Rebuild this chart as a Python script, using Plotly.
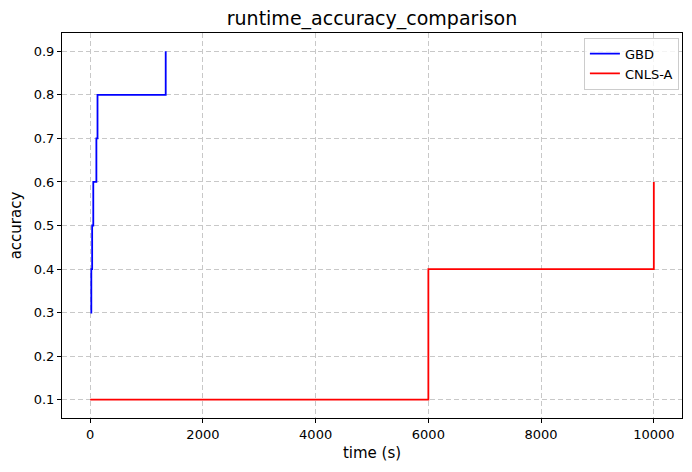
import plotly.graph_objects as go

# GBD run: time (s) at which each accuracy level was reached
gbd_time = [5, 20, 35, 55, 110, 130, 1340]
gbd_acc = [0.3, 0.4, 0.5, 0.6, 0.7, 0.8, 0.9]

# CNLS-A run
cnls_time = [0, 6000, 10000]
cnls_acc = [0.1, 0.4, 0.6]

x_ticks = [0, 2000, 4000, 6000, 8000, 10000]
y_ticks = [0.1, 0.2, 0.3, 0.4, 0.5, 0.6, 0.7, 0.8, 0.9]

font = "DejaVu Sans"
grid_color = "#c8c8c8"

fig = go.Figure()

fig.add_trace(
    go.Scatter(
        x=gbd_time,
        y=gbd_acc,
        mode="lines",
        line=dict(color="blue", width=1.8, shape="hv"),
        name="GBD",
    )
)

fig.add_trace(
    go.Scatter(
        x=cnls_time,
        y=cnls_acc,
        mode="lines",
        line=dict(color="red", width=1.8, shape="hv"),
        name="CNLS-A",
    )
)

axis_common = dict(
    showline=True,
    linecolor="black",
    linewidth=1,
    mirror=True,
    ticks="outside",
    ticklen=4,
    tickcolor="black",
    showgrid=True,
    gridcolor=grid_color,
    griddash="5px,3px",
    gridwidth=1,
    zeroline=False,
    automargin=False,
    tickfont=dict(family=font, size=13, color="black"),
)

fig.update_xaxes(
    range=[-500, 10500],
    tickvals=x_ticks,
    ticktext=[str(v) for v in x_ticks],
    title=dict(text="time (s)", font=dict(family=font, size=15, color="black"), standoff=6),
    **axis_common,
)

fig.update_yaxes(
    range=[0.058, 0.942],
    tickvals=y_ticks,
    ticktext=[f"{v:.1f}" for v in y_ticks],
    title=dict(text="accuracy", font=dict(family=font, size=15, color="black"), standoff=8),
    **axis_common,
)

fig.update_layout(
    width=692,
    height=472,
    margin=dict(l=62, r=10, t=33, b=54),
    paper_bgcolor="white",
    plot_bgcolor="white",
    title=dict(
        text="runtime_accuracy_comparison",
        font=dict(family=font, size=19, color="black"),
        x=(62 + 682) / 2 / 692,
        xanchor="center",
        y=1 - 18 / 472,
        yanchor="middle",
    ),
    legend=dict(
        x=0.995,
        y=0.988,
        xanchor="right",
        yanchor="top",
        bgcolor="rgba(255,255,255,0.8)",
        bordercolor="#cccccc",
        borderwidth=1,
        font=dict(family=font, size=13, color="black"),
    ),
    showlegend=True,
)

# drop the browser's default page margin so the figure sits at the top-left corner
fig.write_html(
    "out.html",
    config={"displayModeBar": False},
    post_script="document.body.style.margin='0';",
)
